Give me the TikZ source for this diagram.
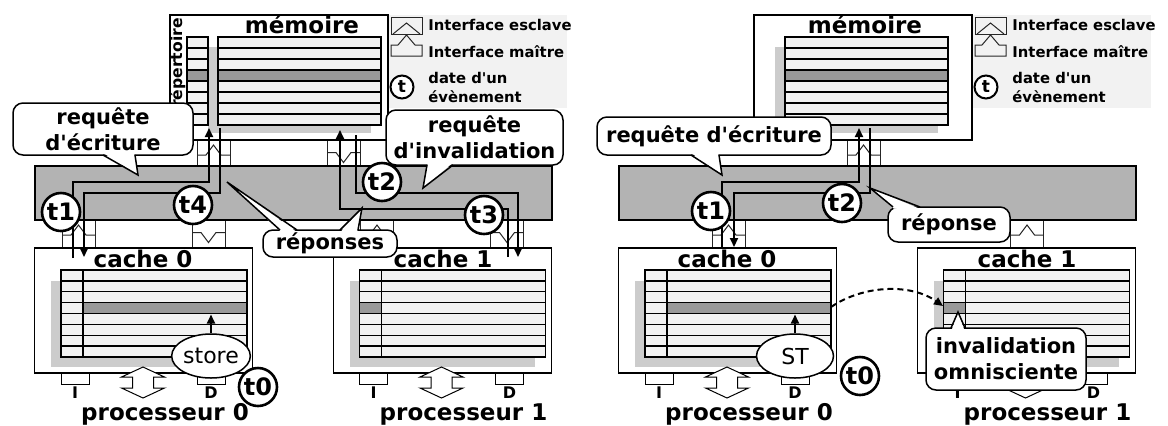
\documentclass[tikz,border=0pt]{standalone}
\usepackage{fontspec}
\setmainfont{DejaVu Sans}
\usetikzlibrary{arrows.meta,shapes.geometric}

\definecolor{busgray}{HTML}{B3B3B3}
\definecolor{cellgray}{HTML}{F2F2F2}
\definecolor{darkcell}{HTML}{999999}
\definecolor{shadowgray}{HTML}{CCCCCC}
\definecolor{legendbg}{HTML}{F2F2F2}

\tikzset{
  unitbox/.style={draw, line width=0.75pt, fill=white, minimum width=109pt, minimum height=62.5pt, inner sep=0pt},
  busbox/.style={draw, line width=0.75pt, fill=busgray, minimum width=258.5pt, minimum height=27pt, inner sep=0pt},
  rowline/.style={line width=0.7pt},
  ifc/.style={line width=0.5pt, draw=black!85},
  portbox/.style={draw, line width=0.5pt, fill=white},
  flow/.style={line width=1pt, -{Triangle[length=4.5pt,width=4pt]}},
  stamp/.style={circle, draw, line width=1.3pt, fill=white, minimum size=19pt, inner sep=0pt, font=\fontsize{12}{12}\selectfont\bfseries},
  bubble/.style={draw, line width=0.75pt, fill=white, rounded corners=5pt, align=center, inner sep=0pt, font=\fontsize{10.5}{13}\selectfont\bfseries},
  title/.style={font=\fontsize{11.5}{13}\selectfont\bfseries, inner sep=0pt, anchor=base},
  portlabel/.style={font=\fontsize{8}{9}\selectfont\bfseries, inner sep=0pt},
  legendtext/.style={font=\fontsize{7.4}{9.5}\selectfont\bfseries, inner sep=0pt, anchor=west, align=left},
  opnode/.style={ellipse, draw, line width=0.75pt, fill=white, minimum width=38.5pt, minimum height=22pt, inner sep=0pt, font=\fontsize{11}{12}\selectfont},
  hollow/.style={draw, line width=0.5pt, fill=white},
}

% straight apostrophe
\newcommand{\apos}{\textquotesingle}

% array of 8 lines: #1,#2 top left, #3,#4 bottom right, dark band of line 4 from x=#5 to x=#6
\newcommand{\cellarray}[6]{%
  \fill[cellgray] (#1,#2) rectangle (#3,#4);
  \fill[darkcell] (#5,{#2+3*(#4-#2)/8}) rectangle (#6,{#2+4*(#4-#2)/8});
  \foreach \k in {1,...,7}{\draw[rowline] (#1,{#2+\k*(#4-#2)/8}) -- (#3,{#2+\k*(#4-#2)/8});}
  \draw[rowline] (#1,#2) rectangle (#3,#4);
}
% interface pair whose master side points up (x left, y top, height)
\newcommand{\ifaceup}[3]{%
  \draw[ifc, fill=white] (#1,#2) rectangle ++(33,#3);
  \draw[ifc] (#1,{#2+15}) -- ++(9,0) -- ++(7.5,-10) -- ++(7.5,10) -- ++(9,0);
}
% interface pair whose master side points down
\newcommand{\ifacedown}[3]{%
  \draw[ifc, fill=white] (#1,#2) rectangle ++(33,#3);
  \draw[ifc] (#1,{#2+12.5}) -- ++(9,0) -- ++(7.5,10) -- ++(7.5,-10) -- ++(9,0);
}
% processor side of a cache: I and D ports, double arrow, labels (x left of cache, name prefix, number)
\newcommand{\cacheports}[3]{%
  \draw[portbox] ({#1+26},373) rectangle ({#1+54},384);
  \draw[portbox] ({#1+162},373) rectangle ({#1+190},384);
  \node[portlabel] (#2I) at ({#1+40},392.5) {I};
  \node[portlabel] (#2D) at ({#1+176},392.5) {D};
  \draw[hollow] ({#1+108},367) -- ++(21.5,10) -- ++(-11,0) -- ++(0,11) -- ++(11,0) -- ++(-21.5,10)
     -- ++(-21.5,-10) -- ++(11,0) -- ++(0,-11) -- ++(-11,0) -- cycle;
  \node[title] (#2P) at ({#1+130},420) {processeur #3};
}
% callout tail: base from x=#1 to x=#2 on edge y=#3, tip (#4,#5), #6 = 1 when pointing down, -1 up
\newcommand{\bubbletail}[6]{%
  \fill[white] ({#1+0.8},{#3-1.6*(#6)}) -- (#4,#5) -- ({#2-0.8},{#3-1.6*(#6)}) -- cycle;
  \draw[line width=0.75pt] (#1,#3) -- (#4,#5) -- (#2,#3);
}
% legend block (x offset, name prefix)
\newcommand{\legendblock}[2]{%
  \fill[legendbg] ({388+#1},15) rectangle ({567+#1},108);
  \draw[ifc] ({391+#1},17) rectangle ({422+#1},34);
  \draw[ifc] ({393+#1},34) -- ({406.5+#1},23) -- ({420+#1},34);
  \draw[ifc] ({391+#1},56) -- ({391+#1},45) -- ({398+#1},45) -- ({406.5+#1},35) -- ({415+#1},45)
     -- ({422+#1},45) -- ({422+#1},56) -- cycle;
  \node[stamp, minimum size=11.5pt, line width=1pt, font=\fontsize{8.5}{9}\selectfont\bfseries] (#2t) at ({402+#1},87) {t};
  \node[legendtext] (#2a) at ({428+#1},25) {Interface esclave};
  \node[legendtext] (#2b) at ({428+#1},52) {Interface maître};
  \node[legendtext] (#2c) at ({428+#1},87.5) {date d\apos un\\évènement};
}

\begin{document}
\begin{tikzpicture}[x=0.5pt, y=-0.5pt]
\useasboundingbox (0,0) rectangle (1168,425);

% ---------- legends ----------
\legendblock{0}{lgL}
\legendblock{584}{lgR}

% ---------- interfaces ----------
\ifaceup{197}{140}{26}   \ifacedown{327}{140}{26}
\ifaceup{62}{220}{28}    \ifacedown{192}{220}{28}
\ifaceup{360.5}{220}{28} \ifacedown{490.5}{220}{28}
\ifaceup{847}{140}{26}
\ifaceup{712}{220}{28}
\ifaceup{1010.5}{220}{28}

% ---------- bus and units ----------
\node[busbox] (busL) at (293.5,193) {};
\node[busbox] (busR) at (877.5,193) {};
\node[unitbox] (memL) at (279,77.5) {};
\node[unitbox] (memR) at (863,77.5) {};
\node[unitbox] (c0L) at (143.5,310.5) {};
\node[unitbox] (c1L) at (442.5,310.5) {};
\node[unitbox] (c0R) at (727.5,310.5) {};
\node[unitbox] (c1R) at (1026.5,310.5) {};

% ---------- memory contents ----------
\fill[shadowgray] (208,47) rectangle (371,133);
\cellarray{187}{37}{208}{125}{187}{208}
\cellarray{218}{37}{381}{125}{218}{381}
\begin{scope}
  \clip (171,16) rectangle (387,139);
  \node[rotate=90, inner sep=0pt, font=\fontsize{7.8}{8}\selectfont\bfseries] (dirL) at (177.5,63) {répertoire};
\end{scope}
\fill[shadowgray] (775,47) rectangle (938,133);
\cellarray{785}{37}{948}{125}{785}{948}
\node[title] (memLt) at (302,33) {mémoire};
\node[title] (memRt) at (865,33) {mémoire};

% ---------- cache contents ----------
\fill[shadowgray] (51,281) rectangle (236,367);
\cellarray{61}{270}{247}{357}{83}{247}
\draw[rowline] (83,270) -- (83,357);
\fill[shadowgray] (349.5,281) rectangle (534.5,367);
\cellarray{359.5}{270}{545.5}{357}{359.5}{381.5}
\draw[rowline] (381.5,270) -- (381.5,357);
\fill[shadowgray] (635,281) rectangle (820,367);
\cellarray{645}{270}{831}{357}{667}{831}
\draw[rowline] (667,270) -- (667,357);
\fill[shadowgray] (933.5,281) rectangle (1118.5,367);
\cellarray{943.5}{270}{1129.5}{357}{943.5}{965.5}
\draw[rowline] (965.5,270) -- (965.5,357);

\node[title] (c0Lt) at (143,267) {cache 0};
\node[title] (c1Lt) at (443,267) {cache 1};
\node[title] (c0Rt) at (727,267) {cache 0};
\node[title] (c1Rt) at (1027,267) {cache 1};

\cacheports{35}{pL0}{0}
\cacheports{333.5}{pL1}{1}
\cacheports{619}{pR0}{0}
\cacheports{917.5}{pR1}{1}

% ---------- transactions, left ----------
\coordinate (c0Lout) at (73,258);
\coordinate (c0Lin) at (84,257);
\coordinate (memLin) at (209,128);
\coordinate (memLout) at (220,128);
\coordinate (memLmst) at (356,135);
\coordinate (memLret) at (340,130);
\coordinate (c1Lin) at (518,257);
\coordinate (c1Lout) at (508,257);
\draw[flow] (c0Lout) -- ++(0,-76) -| (memLin);
\draw[flow] (memLout) -- ++(0,65) -| (c0Lin);
\draw[flow] (memLmst) -- ++(0,58) -| (c1Lin);
\draw[flow] (c1Lout) -- ++(0,-48) -| (memLret);

% ---------- transactions, right ----------
\coordinate (c0Rout) at (722,248);
\coordinate (c0Rin) at (734,247);
\coordinate (memRin) at (859,128);
\coordinate (memRout) at (870,128);
\draw[flow] (c0Rout) -- ++(0,-66) -| (memRin);
\draw[flow] (memRout) -- ++(0,65) -| (c0Rin);

% ---------- processor stores ----------
\node[opnode] (storeL) at (211,356) {store};
\coordinate (lineL) at (211,314.5);
\draw[flow] (storeL.north) -- (lineL);
\node[opnode] (storeR) at (795,356) {ST};
\coordinate (lineR) at (795,314.5);
\draw[flow] (storeR.north) -- (lineR);

% omniscient invalidation
\coordinate (darkR) at (831,307);
\coordinate (tagR) at (943,306);
\draw[line width=1pt, dash pattern=on 3pt off 2pt, -{Triangle[length=4.5pt,width=4pt]}]
  (darkR) .. controls (865,284) and (912,284) .. (tagR);

% ---------- event dates ----------
\node[stamp] (t1L) at (61,212) {t1};
\node[stamp] (t4L) at (193,205) {t4};
\node[stamp] (t2L) at (382,182) {t2};
\node[stamp] (t3L) at (484,215) {t3};
\node[stamp] (t0L) at (258,387) {t0};
\node[stamp] (t1R) at (711,211) {t1};
\node[stamp] (t2R) at (842,203) {t2};
\node[stamp] (t0R) at (860,376) {t0};

% ---------- callouts, left ----------
\node[bubble, minimum width=90pt, minimum height=26pt] (wrL) at (103,129) {requête\\d\apos écriture};
\bubbletail{103}{135}{155}{138}{175}{1}
\node[bubble, minimum width=88.5pt, minimum height=27.5pt] (invL) at (474.5,137.5) {requête\\d\apos invalidation};
\bubbletail{427}{453}{165}{423}{188}{1}
\node[bubble, minimum width=67pt, minimum height=13.5pt] (repL) at (330,243.5) {réponses};
\bubbletail{280}{297}{230}{227}{182}{-1}
\bubbletail{340}{358}{230}{362}{208}{-1}

% ---------- callouts, right ----------
\node[bubble, minimum width=117pt, minimum height=19pt] (wrR) at (714,136) {requête d\apos écriture};
\bubbletail{691}{719}{155}{722}{175}{1}
\node[bubble, minimum width=61pt, minimum height=17.5pt] (repR) at (949,224.5) {réponse};
\bubbletail{893}{920}{207}{870}{188}{-1}
\node[bubble, minimum width=80pt, minimum height=31pt] (omnR) at (1006,359) {invalidation\\omnisciente};
\bubbletail{951}{965}{328}{958}{312}{-1}
\end{tikzpicture}
\end{document}
